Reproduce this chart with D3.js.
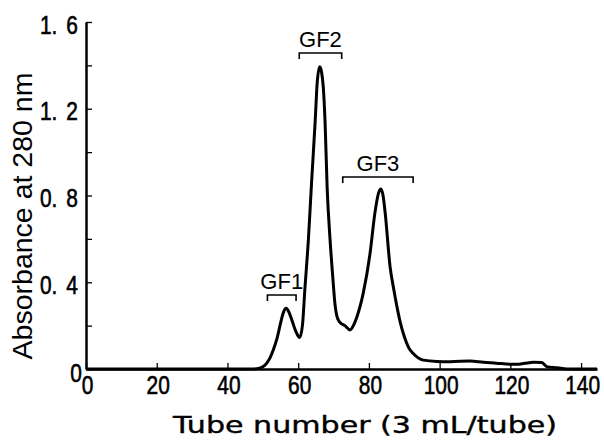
<!DOCTYPE html>
<html><head><meta charset="utf-8">
<script src="https://cdn.jsdelivr.net/npm/d3@7"></script>
<style>
html,body{margin:0;padding:0;background:#fff;}
svg{display:block;}
</style></head>
<body>
<script>
const tubes = [0,20,40,47,49,50,51,52,53,54,55,55.8,56.6,57.3,58.2,59.3,60.4,61.2,61.9,62.9,63.8,64.8,65.4,66.1,66.6,67.1,67.6,68.2,69.0,69.8,70.4,71.0,71.8,73.2,74.7,75.6,76.6,78.4,80.3,81.7,82.7,83.4,84.0,84.6,86.0,87.0,87.9,88.8,90.0,91.2,92.6,95.4,99.2,103,108.6,112.4,116,119.9,121.8,124,126.5,128.9,130.3,133.2,136,144.5];
const absorbance = [0,0,0,0,0.003,0.01,0.025,0.05,0.09,0.14,0.21,0.26,0.28,0.265,0.226,0.175,0.145,0.2,0.37,0.60,0.864,1.14,1.325,1.394,1.37,1.30,1.14,0.833,0.60,0.42,0.30,0.24,0.215,0.2,0.18,0.2,0.24,0.35,0.53,0.72,0.81,0.83,0.8,0.72,0.47,0.37,0.29,0.22,0.15,0.1,0.07,0.041,0.035,0.034,0.037,0.031,0.027,0.022,0.022,0.026,0.031,0.03,0.011,0.006,0,0];
const fractionNames = ["GF1","GF2","GF3"];
const fractionStart = [51.3,60.3,72.6];
const fractionEnd = [59.4,72.3,92.5];
const fractionLevel = [0.341,1.457,0.885];
const xTicks = [0,20,40,60,80,100,120,140];
const yTicks = [0,0.2,0.4,0.6,0.8,1.0,1.2,1.4,1.6];
const yLabelTicks = [0,0.4,0.8,1.2,1.6];

const W=604,H=440;
const svg=d3.select("body").append("svg").attr("width",W).attr("height",H);
const x=d3.scaleLinear().domain([0,144.5]).range([86,597]);
const y=d3.scaleLinear().domain([0,1.6]).range([369,22]);

const tickFont = sel => sel
  .attr("font-family","Liberation Sans, Arial, sans-serif")
  .attr("font-size",25.5).attr("fill","#000")
  .attr("stroke","#000").attr("stroke-width",0.6);

// axes
const xAxis=d3.axisBottom(x).tickValues(xTicks).tickSize(-6).tickSizeOuter(0).tickFormat(d3.format("d"));
const gx=svg.append("g").attr("transform","translate(0,369)").call(xAxis);
gx.attr("font-size",null).attr("font-family",null);
gx.select(".domain").attr("stroke","#000").attr("stroke-width",2.5);
gx.selectAll(".tick line").attr("stroke","#000").attr("stroke-width",1.3);
gx.selectAll(".tick text")
  .attr("y",0).attr("dy",null)
  .attr("transform","translate(1,24.5) scale(0.82,1)")
  .call(tickFont);

const isLabel = d => yLabelTicks.some(v=>Math.abs(v-d)<1e-9);
const yAxis=d3.axisLeft(y).tickValues(yTicks).tickSize(-6).tickSizeOuter(0)
  .tickFormat(d=> isLabel(d) ? (d===0?"0":d3.format(".1f")(d)) : "");
const gy=svg.append("g").attr("transform","translate(86,0)").call(yAxis);
gy.attr("font-size",null).attr("font-family",null);
gy.select(".domain").attr("stroke","#000").attr("stroke-width",2.5);
gy.selectAll(".tick line").attr("stroke","#000").attr("stroke-width",1.3);
gy.selectAll(".tick text")
  .attr("x",0).attr("dy",null).attr("y",0)
  .attr("transform",d=> d===0 ? "translate(-4,12) scale(0.82,1)" : "translate(-8,11) scale(0.82,1)")
  .call(tickFont)
  .each(function(d){
    const s=d3.select(this).text();
    if(s.indexOf(".")<0) return;
    const parts=s.split(".");
    const t=d3.select(this).text(null);
    t.append("tspan").text(parts[0]+".");
    t.append("tspan").attr("dx",11).text(parts[1]);
  });

// curve
const pts=tubes.map((t,i)=>[t,absorbance[i]]);
svg.append("path").datum(pts)
  .attr("fill","none").attr("stroke","#000").attr("stroke-width",3)
  .attr("stroke-linejoin","round")
  .attr("d",d3.line().x(d=>x(d[0])).y(d=>y(d[1])).curve(d3.curveMonotoneX));

// fraction brackets
fractionNames.forEach((n,i)=>{
  const x0=x(fractionStart[i]),x1=x(fractionEnd[i]),yy=y(fractionLevel[i]);
  svg.append("path")
    .attr("d",`M${x0},${yy+6}V${yy}H${x1}V${yy+6}`)
    .attr("fill","none").attr("stroke","#000").attr("stroke-width",1.6);
  svg.append("text").attr("x",(x0+x1)/2).attr("y",yy-6)
    .attr("text-anchor","middle").attr("font-family","Liberation Sans, Arial, sans-serif")
    .attr("font-size",22).attr("fill","#000").text(n);
});

// axis titles
svg.append("text").attr("x",365).attr("y",433).attr("text-anchor","middle")
  .attr("font-family","DejaVu Sans, sans-serif").attr("font-size",23.5)
  .attr("textLength",384).attr("lengthAdjust","spacingAndGlyphs")
  .attr("fill","#000").attr("stroke","#000").attr("stroke-width",0.4)
  .text("Tube number (3 mL/tube)");
svg.append("text").attr("transform","translate(32,216) rotate(-90)").attr("text-anchor","middle")
  .attr("font-family","Liberation Sans, Arial, sans-serif").attr("font-size",28.5)
  .attr("fill","#000").text("Absorbance at 280 nm");
</script>
</body></html>
